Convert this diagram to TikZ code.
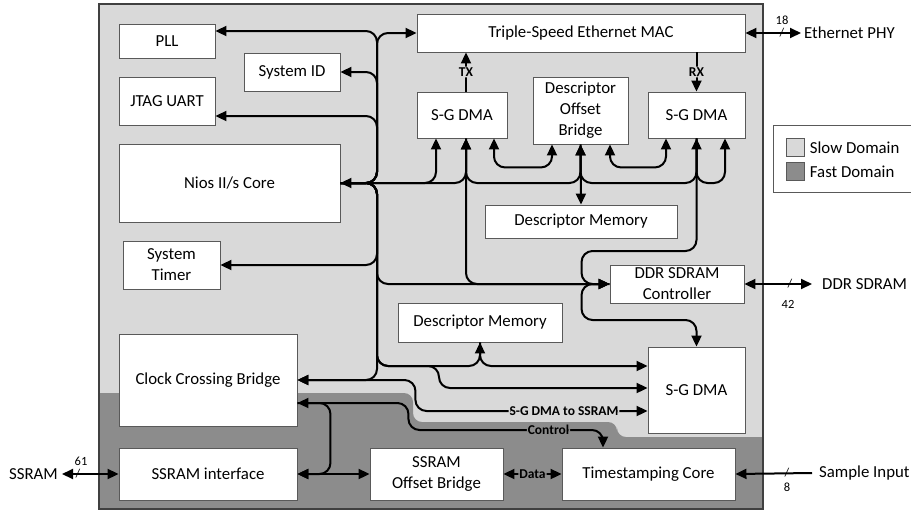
\documentclass[tikz,border=0pt]{standalone}
\usepackage{fontspec}
\setmainfont{Carlito}
\usetikzlibrary{arrows.meta,positioning}
\definecolor{slowgray}{HTML}{D9D9D9}
\definecolor{fastgray}{HTML}{8C8C8C}
\definecolor{edgegray}{HTML}{595959}
\tikzset{
  blk/.style={draw=edgegray, fill=white, line width=0.9pt, inner sep=0pt, align=center,
    font=\fontsize{16.8}{21}\selectfont},
  conn/.style={line width=2pt, rounded corners=11pt, >={Triangle[length=11pt,width=10pt]}},
  lbl/.style={font=\fontsize{13.5}{15}\selectfont\bfseries, inner sep=1pt},
  ext/.style={font=\fontsize{16.8}{21}\selectfont, inner ysep=0pt},
  num/.style={font=\fontsize{12.5}{14}\selectfont, inner sep=0pt},
  slash/.style={font=\fontsize{12}{14}\selectfont, inner sep=0pt},
  swatch/.style={draw=edgegray, line width=0.8pt, minimum width=18pt, minimum height=18pt, inner sep=0pt}
}
\begin{document}
\begin{tikzpicture}[x=1pt, y=-1pt]
                \useasboundingbox (0,0) rectangle (911,512);

                % clock domains
                \fill[slowgray] (99,4) rectangle (763,509);
                \begin{scope}
                    \clip (99,4) rectangle (763,509);
                    \fill[fastgray, rounded corners=9pt] (90,393) -- (413,393) -- (413,422) -- (617,422)
                        -- (617,437) -- (775,437) -- (775,520) -- (90,520) -- cycle;
                \end{scope}
                \draw[line width=1.6pt, draw=black!75] (99,4) rectangle (763,509);

                \begin{scope}[every node/.style={blk}]
                    \node[minimum width=96pt, minimum height=34pt] (pll) at (167,41) {PLL};
                    \node[minimum width=96pt, minimum height=38pt] (sysid) at (292,72) {System ID};
                    \node[minimum width=96pt, minimum height=48pt] (jtag) at (167,101) {JTAG UART};
                    \node[minimum width=221pt, minimum height=78pt] (nios) at (229.5,183) {Nios II/s Core};
                    \node[minimum width=97pt, minimum height=48pt] (timer) at (171.5,265) {System\\Timer};
                    \node[minimum width=178pt, minimum height=92pt] (ccb) at (208,380) {Clock Crossing Bridge};
                    \node[minimum width=178pt, minimum height=52pt] (ssramif) at (208,474) {SSRAM interface};
                    \node[minimum width=133pt, minimum height=52pt] (ssramob) at (436.5,474) {SSRAM\\Offset Bridge};
                    \node[minimum width=173pt, minimum height=52pt] (tscore) at (648.5,474) {Timestamping Core};
                    \node[minimum width=328pt, minimum height=38pt] (mac) at (581,33) {Triple-Speed Ethernet MAC};
                    \node[minimum width=90pt, minimum height=46pt] (dmatx) at (462,115) {S-G DMA};
                    \node[minimum width=95pt, minimum height=67pt] (dob) at (580.5,110.5) {Descriptor\\Offset\\Bridge};
                    \node[minimum width=97pt, minimum height=46pt] (dmarx) at (696.5,115) {S-G DMA};
                    \node[minimum width=192pt, minimum height=33pt] (descmemA) at (581,221.5) {Descriptor Memory};
                    \node[minimum width=134pt, minimum height=38pt] (ddr) at (677,284) {DDR SDRAM\\Controller};
                    \node[minimum width=164pt, minimum height=39pt] (descmemB) at (480,322.5) {Descriptor Memory};
                    \node[minimum width=97pt, minimum height=86pt] (dmasg) at (696.5,390) {S-G DMA};
                \end{scope}

                % legend
                \draw[draw=edgegray, fill=white, line width=0.8pt] (773,125) rectangle (915,192);
                \node[swatch, fill=slowgray] (swslow) at (795,147.5) {};
                \node[swatch, fill=fastgray] (swfast) at (795,171.5) {};
                \node[ext, right=2pt of swslow] (txslow) {Slow Domain};
                \node[ext, right=2pt of swfast] (txfast) {Fast Domain};

                % outside world
                \node[ext, anchor=west, inner xsep=3pt] (phy) at (801,33) {Ethernet PHY};
                \node[ext, anchor=west, inner xsep=10pt] (ddrext) at (812,284) {DDR SDRAM};
                \node[ext, anchor=west, inner xsep=7pt] (sampin) at (812,473) {Sample Input};
                \node[ext, anchor=east, inner xsep=4pt] (ssramext) at (62,474) {SSRAM};

                \coordinate (bus) at (377,183);
                \coordinate (pllP) at ([yshift=10pt]pll.east);
                \coordinate (jtagP) at ([yshift=-15pt]jtag.east);
                \coordinate (ccbL) at ([yshift=-23pt]ccb.east);
                \coordinate (tx1) at ([xshift=-26pt]dmatx.south);
                \coordinate (tx2) at ([xshift=4pt]dmatx.south);
                \coordinate (tx3) at ([xshift=32pt]dmatx.south);
                \coordinate (dobL) at ([xshift=-28.5pt]dob.south);
                \coordinate (dobR) at ([xshift=29.5pt]dob.south);
                \coordinate (rx1) at ([xshift=-30.5pt]dmarx.south);
                \coordinate (rx2) at (dmarx.south);
                \coordinate (rx3) at ([xshift=28.5pt]dmarx.south);
                \coordinate (sgp1) at ([yshift=24pt]dmasg.west);
                \coordinate (sgp2) at ([yshift=2pt]dmasg.west);
                \coordinate (sgp3) at ([yshift=-21pt]dmasg.west);
                \coordinate (ddrj) at ([xshift=-28pt]ddr.west);
                \coordinate (tsC) at ([xshift=-45.5pt]tscore.north);

                % Nios data bus
                \draw[conn,<->] (nios.east) -- (bus) |- (pllP);
                \draw[conn,->] (nios.east) -- (bus) |- (mac.west);
                \draw[conn,->] (nios.east) -- (bus) |- (sysid.east);
                \draw[conn,->] (nios.east) -- (bus) |- (jtagP);
                \draw[conn,->] (nios.east) -- (bus) |- (timer.east);
                \draw[conn,->] (nios.east) -- (bus) |- (ccb.east);
                \draw[conn,->] (nios.east) -- (bus) |- (ddr.west);
                \draw[conn,->] (nios.east) -- (bus) |- (descmemB.south |- sgp1) -- (descmemB.south);
                \draw[conn,->] (descmemB.south) |- (sgp1);
                \draw[conn,->] (nios.east) -- (bus) -- (bus |- sgp1) -- ++(62,0) |- (sgp2);

                \draw[conn,->] (nios.east) -| (tx1);
                \draw[conn,->] (nios.east) -| (tx2);
                \draw[conn,->] (tx2) |- (nios.east -| dob.south) -- (dob.south);
                \draw[conn,->] (dob.south) |- (nios.east -| rx2) -- (rx2);
                \draw[conn,->] (rx2) |- (nios.east -| rx3) -- (rx3);
                \draw[conn,<->] (dob.south) -- (descmemA.north);
                \draw[conn,<->] (tx3) -- ++(0,29) -| (dobL);
                \draw[conn,<->] (dobR) -- ++(0,23) -| (rx1);

                % memory masters
                \draw[conn,<->] (tx2) |- (ddr.west);
                \draw[conn,->] (rx2) |- ([yshift=33pt]ddrj) -- (ddrj) -- (ddr.west);
                \draw[conn,->] (ddr.west) -- (ddrj) -- ([yshift=-36pt]ddrj) -| (dmasg.north);

                \draw[conn,->] (dmatx.north -| tx2) -- (mac.south -| tx2) node[lbl, midway, fill=slowgray] {TX};
                \draw[conn,->] (mac.south -| rx2) -- (dmarx.north -| rx2) node[lbl, midway, fill=slowgray] {RX};

                % fast domain
                \draw[conn,<->] (ccb.east) -- ++(118,0) |- (sgp3) node[lbl, pos=0.82, fill=slowgray] {S-G DMA to SSRAM};
                \draw[conn,<->] (ccbL) -- ++(33,0) |- (ssramif.east);
                \draw[conn,->] (ccbL) -- ++(111,0) -- ++(0,27) -| (tsC) node[lbl, pos=0.36, fill=fastgray] {Control};
                \draw[conn,<->] (ssramif.east) -- (ssramob.west);
                \draw[conn,<->] (ssramob.east) -- (tscore.west) node[lbl, midway, fill=fastgray] {Data};

                % pins
                \draw[conn,<->] (mac.east) -- (phy.west);
                \draw[conn,<->] (ddr.east) -- (ddrext.west);
                \draw[conn,->] (sampin.west) -- (tscore.east);
                \draw[conn,<->] (ssramext.east) -- (ssramif.west);

                \node[slash] (s18) at (782,33) {/};
                \node[slash] (s42) at (790,284) {/};
                \node[slash] (s8) at (787,473) {/};
                \node[slash] (s61) at (78,474) {/};
                \node[num] (w18) at (782,20) {18};
                \node[num] (w42) at (788,304) {42};
                \node[num] (w8) at (787,487) {8};
                \node[num] (w61) at (81,461) {61};
\end{tikzpicture}
\end{document}
